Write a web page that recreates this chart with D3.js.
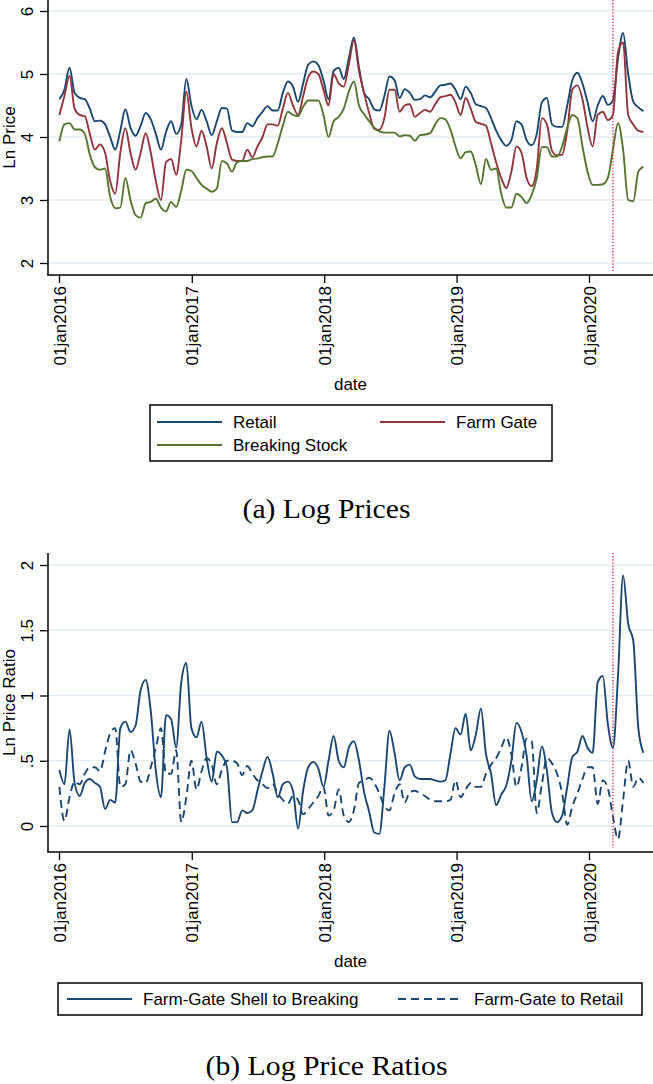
<!DOCTYPE html>
<html>
<head>
<meta charset="utf-8">
<script src="https://cdn.jsdelivr.net/npm/d3@7"></script>
<style>
  body { margin: 0; background: #fff; }
</style>
</head>
<body>
<div class="container"></div>
<script>
// page size
const width = 653;
const height = 1084;

// weekly series, read every second week starting 02jan2016
const startDate = "2016-01-02";
const stepDays = 14;

const retail = [
  4.60, 4.75, 5.10, 4.70, 4.62, 4.60, 4.45, 4.25, 4.26, 4.20,
  4.00, 3.80, 4.10, 4.44, 4.15, 4.02, 4.18, 4.38, 4.28, 4.05,
  3.80, 4.08, 4.25, 4.05, 4.20, 4.92, 4.50, 4.28, 4.43, 4.25,
  4.03, 4.25, 4.46, 4.45, 4.10, 4.08, 4.08, 4.22, 4.17, 4.30,
  4.40, 4.49, 4.42, 4.42, 4.70, 4.88, 4.80, 4.56, 4.85, 5.15,
  5.20, 5.14, 4.90, 4.60, 5.05, 5.10, 4.92, 5.25, 5.58, 5.10,
  4.70, 4.60, 4.44, 4.42, 4.65, 4.96, 4.90, 4.62, 4.76, 4.70,
  4.59, 4.60, 4.66, 4.63, 4.72, 4.82, 4.83, 4.85, 4.75, 4.60,
  4.80, 4.70, 4.52, 4.49, 4.46, 4.30, 4.10, 3.95, 3.86, 3.95,
  4.25, 4.20, 3.95, 3.87, 4.05, 4.55, 4.62, 4.20, 4.16, 4.16,
  4.50, 4.90, 5.02, 4.85, 4.55, 4.25, 4.50, 4.65, 4.51, 4.58,
  5.25, 5.65, 5.00, 4.56, 4.47, 4.41
];

const farmGate = [
  4.35, 4.65, 4.97, 4.45, 4.35, 4.33, 4.05, 3.80, 3.88, 3.75,
  3.30, 3.10, 3.75, 4.14, 3.75, 3.48, 3.75, 4.06, 3.75, 3.30,
  3.00, 3.60, 3.65, 3.40, 3.95, 4.72, 4.15, 3.85, 4.10, 3.85,
  3.50, 3.90, 4.14, 3.90, 3.64, 3.62, 3.62, 3.80, 3.68, 3.85,
  4.00, 4.20, 4.20, 4.18, 4.45, 4.70, 4.50, 4.35, 4.65, 4.95,
  5.04, 5.00, 4.75, 4.50, 5.00, 4.85, 4.80, 5.15, 5.54, 5.05,
  4.70, 4.38, 4.13, 4.11, 4.30, 4.75, 4.75, 4.40, 4.50, 4.52,
  4.32, 4.38, 4.43, 4.40, 4.52, 4.63, 4.65, 4.67, 4.55, 4.35,
  4.62, 4.45, 4.24, 4.21, 4.18, 3.90, 3.60, 3.35, 3.19, 3.45,
  3.85, 3.75, 3.35, 3.22, 3.50, 4.30, 4.20, 3.78, 3.71, 3.72,
  4.10, 4.75, 4.82, 4.60, 4.15, 3.85, 4.35, 4.40, 4.27, 4.35,
  5.35, 5.50, 4.35, 4.20, 4.10, 4.08
];

const breakingStock = [
  3.93, 4.20, 4.22, 4.12, 4.12, 4.05, 3.72, 3.52, 3.48, 3.50,
  3.05, 2.87, 2.88, 3.35, 3.00, 2.76, 2.72, 2.95, 2.97, 3.02,
  2.88, 2.82, 2.97, 2.89, 3.15, 3.48, 3.46, 3.35, 3.24, 3.18,
  3.13, 3.18, 3.62, 3.58, 3.45, 3.60, 3.62, 3.62, 3.65, 3.66,
  3.68, 3.69, 3.69, 3.90, 4.18, 4.40, 4.35, 4.33, 4.48, 4.58,
  4.58, 4.58, 4.35, 4.00, 4.25, 4.32, 4.45, 4.72, 4.88, 4.50,
  4.36, 4.25, 4.15, 4.09, 4.07, 4.07, 4.07, 4.01, 4.03, 4.02,
  3.94, 4.03, 4.04, 4.06, 4.20, 4.30, 4.28, 4.12, 3.85, 3.66,
  3.76, 3.77, 3.55, 3.25, 3.65, 3.48, 3.50, 3.10, 2.88, 2.88,
  3.10, 3.05, 2.95, 3.08, 3.35, 3.84, 3.84, 3.69, 3.69, 3.85,
  4.15, 4.35, 4.30, 3.85, 3.45, 3.24, 3.24, 3.25, 3.35, 3.80,
  4.22, 3.80, 3.00, 2.98, 3.45, 3.53
];

const shellToBreaking = [
  0.43, 0.32, 0.74, 0.33, 0.23, 0.33, 0.36, 0.33, 0.30, 0.13,
  0.20, 0.18, 0.75, 0.80, 0.72, 0.77, 1.04, 1.12, 0.88, 0.42,
  0.22, 0.85, 0.82, 0.60, 1.10, 1.25, 0.75, 0.68, 0.80, 0.52,
  0.34, 0.57, 0.54, 0.45, 0.03, 0.03, 0.12, 0.10, 0.12, 0.27,
  0.42, 0.53, 0.40, 0.22, 0.32, 0.34, 0.27, -0.02, 0.27, 0.45,
  0.49, 0.44, 0.30, 0.50, 0.69, 0.50, 0.45, 0.60, 0.65, 0.50,
  0.26, 0.11, -0.05, -0.06, 0.30, 0.73, 0.56, 0.35, 0.45, 0.47,
  0.38, 0.36, 0.36, 0.36, 0.35, 0.34, 0.35, 0.55, 0.75, 0.70,
  0.86, 0.58, 0.70, 0.90, 0.55, 0.40, 0.16, 0.24, 0.31, 0.50,
  0.79, 0.72, 0.54, 0.19, 0.35, 0.61, 0.42, 0.10, 0.03, 0.08,
  0.30, 0.53, 0.57, 0.69, 0.60, 0.56, 1.10, 1.15, 0.78, 0.60,
  1.15, 1.92, 1.55, 1.42, 0.75, 0.56
];

const gateToRetail = [
  0.30, 0.04, 0.22, 0.34, 0.32, 0.40, 0.45, 0.45, 0.42, 0.57,
  0.71, 0.75, 0.30, 0.32, 0.58, 0.48, 0.34, 0.33, 0.45, 0.60,
  0.75, 0.40, 0.40, 0.58, 0.03, 0.22, 0.50, 0.28, 0.42, 0.52,
  0.47, 0.32, 0.43, 0.50, 0.50, 0.48, 0.39, 0.46, 0.40, 0.35,
  0.32, 0.29, 0.32, 0.25, 0.20, 0.17, 0.23, 0.20, 0.09, 0.13,
  0.18, 0.23, 0.30, 0.08, 0.12, 0.28, 0.08, 0.03, 0.12, 0.33,
  0.35, 0.37, 0.33, 0.25, 0.15, 0.12, 0.25, 0.32, 0.18, 0.26,
  0.27, 0.25, 0.23, 0.20, 0.19, 0.19, 0.19, 0.20, 0.35, 0.22,
  0.28, 0.33, 0.30, 0.30, 0.40, 0.47, 0.52, 0.60, 0.68, 0.55,
  0.30, 0.45, 0.67, 0.65, 0.10, 0.32, 0.52, 0.48, 0.40, 0.25,
  0.01, 0.15, 0.25, 0.36, 0.45, 0.45, 0.17, 0.35, 0.29, 0.07,
  -0.10, 0.20, 0.50, 0.30, 0.37, 0.33
];

// tick values
const yearTicks = ["2016-01-01", "2017-01-01", "2018-01-01", "2019-01-01", "2020-01-01"];
const priceTicks = [2, 3, 4, 5, 6];
const ratioTicks = [0, 0.5, 1, 1.5, 2];
const ratioTickLabels = ["0", ".5", "1", "1.5", "2"];
const eventDate = "2020-03-07";

// colours (stata s2color)
const navy = "#1a476f";
const maroon = "#90353b";
const green = "#55752f";

const parse = d3.utcParse("%Y-%m-%d");
const dates = retail.map((d, i) => d3.utcDay.offset(parse(startDate), i * stepDays));

const svg = d3.select(".container")
  .append("svg")
  .attr("width", width)
  .attr("height", height)
  .attr("viewBox", [0, 0, width, height])
  .style("font-family", "'Liberation Sans', Arial, sans-serif");

const axisLeft = 48;
const axisRight = 653;

// same time scale for both panels
const xScale = d3.scaleUtc()
  .domain([parse("2016-01-01"), parse("2020-01-01")])
  .range([59, 589]);

function drawPanel(p) {
  const g = svg.append("g");
  const yScale = d3.scaleLinear().domain(p.yDomain).range(p.yRange);

  // gridlines
  g.append("g")
    .selectAll("line")
    .data(p.ticks)
    .join("line")
    .attr("x1", axisLeft)
    .attr("x2", axisRight)
    .attr("y1", d => yScale(d))
    .attr("y2", d => yScale(d))
    .attr("stroke", "#e6edf2")
    .attr("stroke-width", 1.5);

  // series
  p.series.forEach(s => {
    const line = d3.line()
      .x((d, i) => xScale(dates[i]))
      .y(d => yScale(d))
      .curve(d3.curveMonotoneX);
    g.append("path")
      .datum(s.values)
      .attr("d", line)
      .attr("fill", "none")
      .attr("stroke", s.color)
      .attr("stroke-width", 1.9)
      .attr("stroke-dasharray", s.dash || null)
      .attr("stroke-linejoin", "round");
  });

  // covid marker line
  g.append("line")
    .attr("x1", xScale(parse(eventDate)))
    .attr("x2", xScale(parse(eventDate)))
    .attr("y1", p.axisTop)
    .attr("y2", p.axisBottom - 4)
    .attr("stroke", "#b8324e")
    .attr("stroke-width", 1.4)
    .attr("stroke-dasharray", "1.3,1.8");

  // y axis
  const yAxis = g.append("g")
    .attr("transform", `translate(${axisLeft},0)`)
    .call(d3.axisLeft(yScale).tickValues(p.ticks).tickSize(8).tickFormat((d, i) => p.tickLabels[i]));
  yAxis.select(".domain").remove();
  yAxis.selectAll(".tick line").attr("stroke", "#000").attr("stroke-width", 1.3);
  yAxis.selectAll("text")
    .attr("transform", "rotate(-90)")
    .attr("x", 0)
    .attr("y", -15)
    .attr("dy", 0)
    .attr("text-anchor", "middle")
    .attr("font-size", 17)
    .attr("font-family", "'Liberation Sans', Arial, sans-serif")
    .attr("fill", "#000");

  // x axis
  const xAxis = g.append("g")
    .attr("transform", `translate(0,${p.axisBottom})`)
    .call(d3.axisBottom(xScale).tickValues(yearTicks.map(parse)).tickSize(8)
      .tickFormat(d => d3.utcFormat("%d%b%Y")(d).toLowerCase()));
  xAxis.select(".domain").remove();
  xAxis.selectAll(".tick line").attr("stroke", "#000").attr("stroke-width", 1.3);
  xAxis.selectAll("text")
    .attr("transform", "rotate(-90)")
    .attr("x", -11)
    .attr("y", 6)
    .attr("dy", 0)
    .attr("text-anchor", "end")
    .attr("font-size", 17)
    .attr("font-family", "'Liberation Sans', Arial, sans-serif")
    .attr("fill", "#000");

  // axis lines
  g.append("line")
    .attr("x1", axisLeft).attr("x2", axisLeft)
    .attr("y1", p.axisTop).attr("y2", p.axisBottom)
    .attr("stroke", "#000").attr("stroke-width", 1.5);
  g.append("line")
    .attr("x1", axisLeft - 0.75).attr("x2", axisRight)
    .attr("y1", p.axisBottom).attr("y2", p.axisBottom)
    .attr("stroke", "#000").attr("stroke-width", 1.5);

  // axis titles
  g.append("text")
    .attr("transform", `translate(15,${(p.axisTop + p.axisBottom) / 2}) rotate(-90)`)
    .attr("text-anchor", "middle")
    .attr("font-size", 17)
    .text(p.yTitle);
  g.append("text")
    .attr("x", (axisLeft + axisRight) / 2)
    .attr("y", p.axisBottom + 115)
    .attr("text-anchor", "middle")
    .attr("font-size", 17)
    .text("date");

  // legend
  const lg = g.append("g");
  lg.append("rect")
    .attr("x", p.legend.x).attr("y", p.legend.y)
    .attr("width", p.legend.w).attr("height", p.legend.h)
    .attr("fill", "#fff").attr("stroke", "#000").attr("stroke-width", 1.5);
  p.legend.items.forEach(it => {
    lg.append("line")
      .attr("x1", it.x).attr("x2", it.x + 65)
      .attr("y1", it.y).attr("y2", it.y)
      .attr("stroke", it.color).attr("stroke-width", 1.9)
      .attr("stroke-dasharray", it.dash || null);
    lg.append("text")
      .attr("x", it.x + 76).attr("y", it.y + 6)
      .attr("font-size", 17)
      .text(it.label);
  });

  // caption
  g.append("text")
    .attr("x", width / 2)
    .attr("y", p.caption.y)
    .attr("text-anchor", "middle")
    .attr("font-family", "'Liberation Serif', 'Times New Roman', serif")
    .attr("font-size", 27)
    .attr("textLength", p.caption.len)
    .attr("lengthAdjust", "spacingAndGlyphs")
    .text(p.caption.text);
}

drawPanel({
  yDomain: [2, 6],
  yRange: [263, 11],
  ticks: priceTicks,
  tickLabels: priceTicks.map(String),
  axisTop: 0,
  axisBottom: 275,
  yTitle: "Ln Price",
  series: [
    { values: retail, color: navy },
    { values: farmGate, color: maroon },
    { values: breakingStock, color: green }
  ],
  legend: {
    x: 150, y: 405, w: 402, h: 56,
    items: [
      { x: 157, y: 422, color: navy, label: "Retail" },
      { x: 380, y: 422, color: maroon, label: "Farm Gate" },
      { x: 157, y: 445, color: green, label: "Breaking Stock" }
    ]
  },
  caption: { y: 518, text: "(a) Log Prices", len: 168 }
});

drawPanel({
  yDomain: [0, 2],
  yRange: [826, 565],
  ticks: ratioTicks,
  tickLabels: ratioTickLabels,
  axisTop: 553,
  axisBottom: 852,
  yTitle: "Ln Price Ratio",
  series: [
    { values: shellToBreaking, color: navy },
    { values: gateToRetail, color: navy, dash: "8,5" }
  ],
  legend: {
    x: 58, y: 983, w: 584, h: 32,
    items: [
      { x: 67, y: 999, color: navy, label: "Farm-Gate Shell to Breaking" },
      { x: 398, y: 999, color: navy, dash: "8,5", label: "Farm-Gate to Retail" }
    ]
  },
  caption: { y: 1075, text: "(b) Log Price Ratios", len: 242 }
});
</script>
</body>
</html>
